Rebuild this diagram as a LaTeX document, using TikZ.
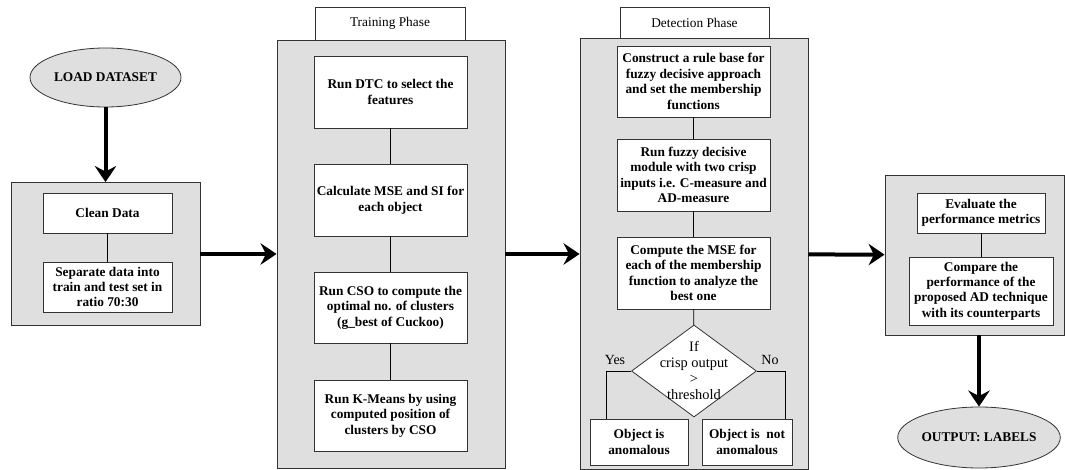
\documentclass[tikz,border=0pt]{standalone}
\usepackage{fontspec}
\setmainfont{Liberation Serif}
\usetikzlibrary{shapes.geometric,arrows.meta}

\begin{document}
\begin{tikzpicture}[x=0.75pt,y=-0.75pt,
  phase/.style={draw=black!80, fill=gray!25, line width=0.6pt},
  tag/.style={draw=black!80, fill=white, line width=0.6pt, inner sep=0pt, font=\fontsize{10}{12}\selectfont},
  task/.style={draw=black!80, fill=white, line width=0.6pt, align=center, inner sep=0pt, font=\bfseries\fontsize{10}{11.6}\selectfont},
  term/.style={ellipse, draw=black!80, fill=gray!25, line width=0.6pt, inner sep=0pt, font=\bfseries\fontsize{10}{12}\selectfont},
  decision/.style={diamond, draw=black!80, fill=white, line width=0.6pt, inner sep=0pt},
  flow/.style={line width=3pt, -{Stealth[length=12pt,width=16pt,inset=4pt]}},
  link/.style={line width=0.6pt}]
\useasboundingbox (0,0) rectangle (1065,470);

% outer boxes
\node[phase, minimum width=141.75pt, minimum height=107.25pt] (prep) at (105.5,254) {};
\node[phase, minimum width=171pt, minimum height=321pt] (train) at (391,254) {};
\node[phase, minimum width=171pt, minimum height=323.25pt] (detect) at (694,254) {};
\node[phase, minimum width=134.25pt, minimum height=120pt] (eval) at (974.5,255) {};
\node[tag, minimum width=112.5pt, minimum height=24.75pt] (traintag) at (390,23.5) {Training Phase};
\node[tag, minimum width=111.75pt, minimum height=23.25pt] (detecttag) at (694.5,22.5) {Detection Phase};

% terminals
\node[term, minimum width=113.25pt, minimum height=44.25pt] (load) at (105.5,77.5) {LOAD DATASET};
\node[term, minimum width=112.5pt, minimum height=45.75pt] (output) at (979,437.5) {OUTPUT: LABELS};

% preprocessing
\node[task, minimum width=96.75pt, minimum height=30pt] (clean) at (107.5,213) {Clean Data};
\node[task, minimum width=96.75pt, minimum height=37.5pt] (separate) at (107.5,287) {Separate data into\\train and test set in\\ratio 70:30};

% training phase
\node[task, minimum width=114.75pt, minimum height=54pt] (dtc) at (390.5,92) {Run DTC to select the\\features};
\node[task, minimum width=114.75pt, minimum height=54pt] (mse) at (390.5,200) {Calculate MSE and SI for\\each object};
\node[task, minimum width=114.75pt, minimum height=53.25pt] (cso) at (390.5,307.5) {Run CSO to compute the\\optimal no. of clusters\\(g\_best of Cuckoo)};
\node[task, minimum width=114.75pt, minimum height=53.25pt] (kmeans) at (390.5,415.5) {Run K-Means by using\\computed position of\\clusters by CSO};

% detection phase
\node[task, minimum width=114.75pt, minimum height=53.25pt] (rule) at (693.5,81.5) {Construct a rule base for\\fuzzy decisive approach\\and set the membership\\functions};
\node[task, minimum width=114.75pt, minimum height=54pt] (fuzzy) at (693.5,175) {Run fuzzy decisive\\module with two crisp\\inputs i.e. C-measure and\\AD-measure};
\node[task, minimum width=114.75pt, minimum height=54pt] (msefn) at (693.5,273) {Compute the MSE for\\each of the membership\\function to analyze the\\best one};
\node[decision, minimum width=93.75pt, minimum height=69pt,
  label={[align=center, font=\fontsize{10.8}{12}\selectfont]center:If\\crisp output\\>\\threshold}] (dec) at (694,371) {};
\node[task, minimum width=73.5pt, minimum height=34.5pt] (anom) at (639,442) {Object is\\anomalous};
\node[task, minimum width=67.5pt, minimum height=34.5pt] (normal) at (747,442) {Object is\ \ not\\anomalous};
\node[font=\fontsize{10.5}{12}\selectfont] (yes) at (615,360) {Yes};
\node[font=\fontsize{10.5}{12}\selectfont] (no) at (770,360) {No};

% evaluation
\node[task, minimum width=96pt, minimum height=30pt] (eval1) at (981,213) {Evaluate the\\performance metrics};
\node[task, minimum width=108pt, minimum height=51pt] (eval2) at (981,291) {Compare the\\performance of the\\proposed AD technique\\with its counterparts};

% links inside boxes
\path[draw,link] (clean) -- (separate);
\path[draw,link] (dtc) -- (mse);
\path[draw,link] (mse) -- (cso);
\path[draw,link] (cso) -- (kmeans);
\path[draw,link] (rule) -- (fuzzy);
\path[draw,link] (fuzzy) -- (msefn);
\path[draw,link] (msefn) -- (dec);
\path[draw,link] (dec.west) -| ([xshift=-24.75pt]anom.north);
\path[draw,link] (dec.east) -| ([xshift=28.5pt]normal.north);
\path[draw,link] (eval1) -- (eval2);

% main flow
\path[draw,flow] (load) -- (prep);
\path[draw,flow] (prep) -- (train);
\path[draw,flow] (train) -- (detect);
\path[draw,flow] (detect) -- (eval);
\path[draw,flow] (output.north |- eval.south) -- (output.north);
\end{tikzpicture}
\end{document}
